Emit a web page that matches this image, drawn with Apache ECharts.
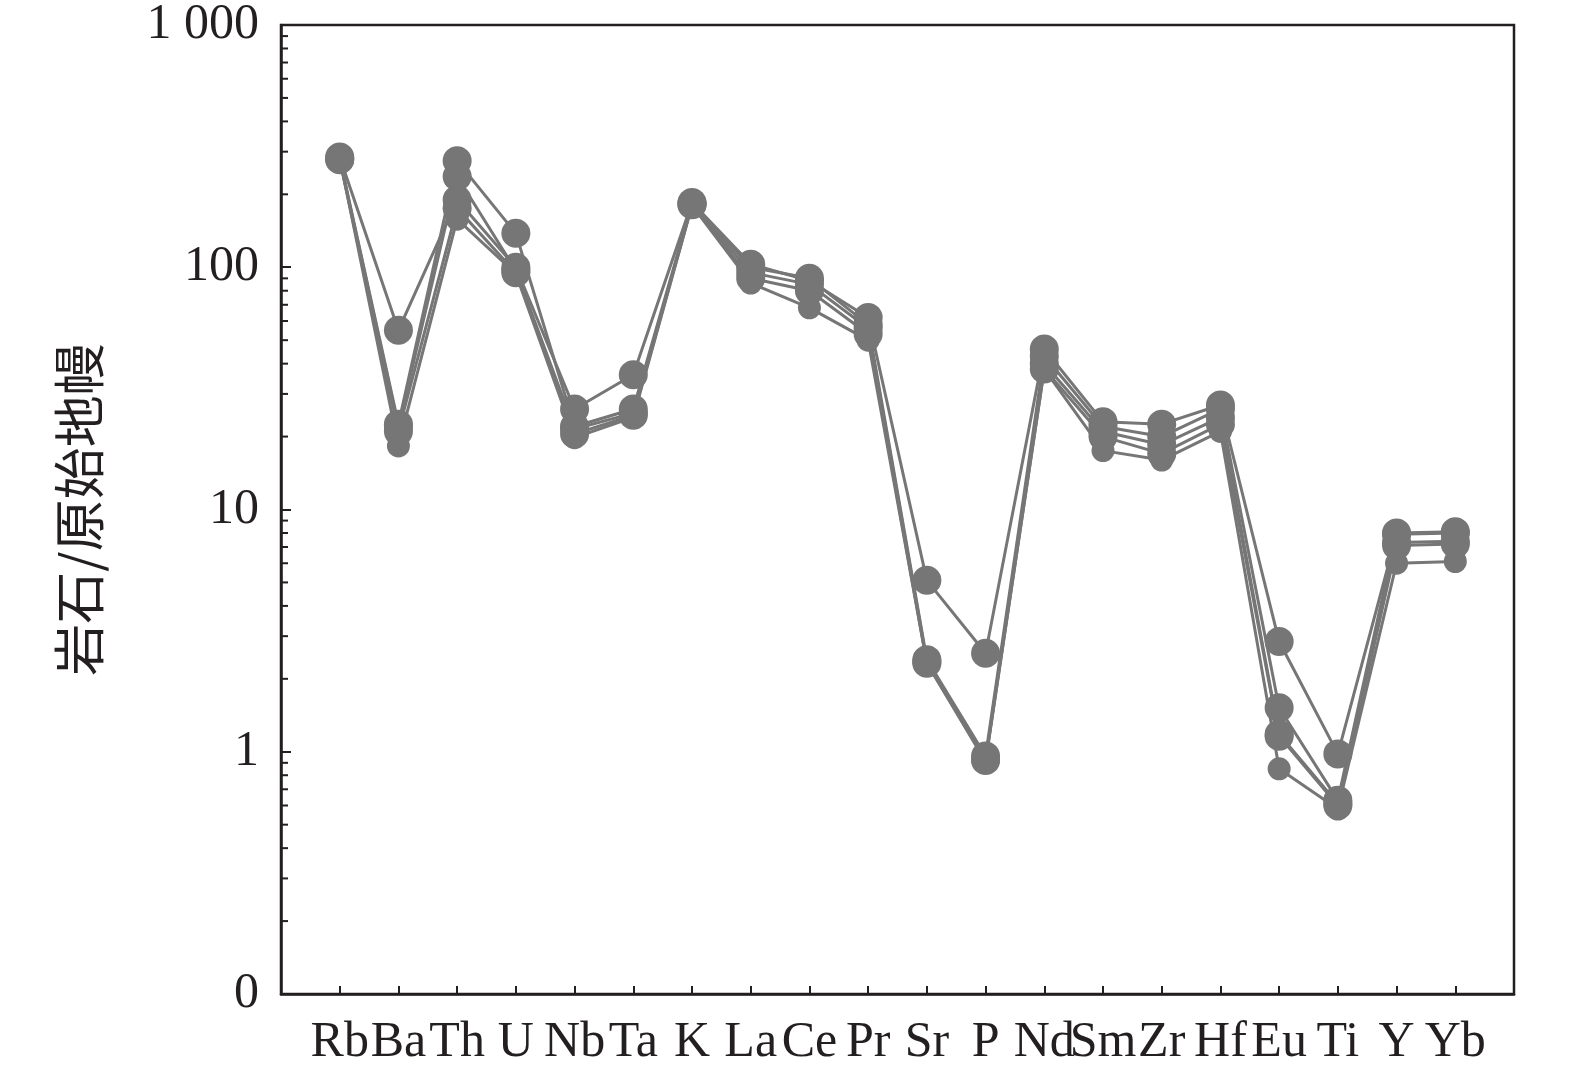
<!DOCTYPE html>
<html>
<head>
<meta charset="utf-8">
<script src="https://cdn.jsdelivr.net/npm/echarts@6/dist/echarts.min.js"></script>
<style>
html,body{margin:0;padding:0;background:#fff;}
#chart{width:1575px;height:1074px;}
</style>
</head>
<body>
<div id="chart"></div>
<script>
const elements = ['Rb','Ba','Th','U','Nb','Ta','K','La','Ce','Pr','Sr','P','Nd','Sm','Zr','Hf','Eu','Ti','Y','Yb'];
const sample1 = [285, 55, 190, 100, 26, 36, 185, 103, 88, 62, 5.1, 2.55, 46, 23, 22.5, 27, 2.85, 0.98, 7.9, 8.0];
const sample2 = [282, 22.5, 275, 138, 22, 26, 183, 100, 90, 58, 2.4, 0.96, 43, 22, 20, 26, 1.52, 0.63, 8.0, 8.1];
const sample3 = [280, 22, 237, 97, 21.5, 25, 182, 95, 85, 56, 2.35, 0.93, 40, 21, 18.5, 24, 1.18, 0.61, 7.3, 7.4];
const sample4 = [278, 21, 175, 95, 20.5, 24.5, 181, 90, 80, 53, 2.32, 0.92, 38, 20, 17, 22.5, 1.16, 0.6, 7.1, 7.2];
const sample5 = [283, 18.3, 158, 94, 19.8, 24, 180, 86, 68, 50, 2.33, 0.91, 38, 17.5, 16, 21, 0.85, 0.58, 6.0, 6.1];
const samples = [sample1, sample2, sample3, sample4, sample5];
const yLabels = {'0.1':'0','1':'1','10':'10','100':'100','1000':'1 000'};
const minorTickValues = [];
[0.1, 1, 10, 100].forEach(d => { for (let m = 2; m <= 9; m++) minorTickValues.push(+(m * d).toPrecision(3)); });

const lineColor = '#767676';
const inkColor = '#231f20';
const chart = echarts.init(document.getElementById('chart'));

const series = samples.map((s, k) => ({
  type: 'line',
  data: s.map((v, i) => [i + 1, v]),
  symbol: 'circle',
  symbolSize: k === 4 ? 23 : 29,
  lineStyle: { color: lineColor, width: 3 },
  itemStyle: { color: lineColor },
  emphasis: { disabled: true },
  animation: false
}));

series.push({
  type: 'custom',
  silent: true,
  animation: false,
  data: minorTickValues.map(v => [0, v]),
  renderItem: function (params, api) {
    const p = api.coord([api.value(0), api.value(1)]);
    return {
      type: 'line',
      shape: { x1: p[0], y1: p[1], x2: p[0] + 7, y2: p[1] },
      style: { stroke: inkColor, lineWidth: 2 }
    };
  }
});

chart.setOption({
  backgroundColor: '#fff',
  animation: false,
  grid: { left: 281, right: 61, top: 23, bottom: 80, show: true, borderColor: inkColor, borderWidth: 2.5, backgroundColor: 'transparent' },
  xAxis: {
    type: 'value', min: 0, max: 21, interval: 1,
    splitLine: { show: false },
    axisLine: { lineStyle: { color: inkColor, width: 2.5 } },
    axisTick: { inside: true, length: 8, lineStyle: { color: inkColor, width: 2 } },
    axisLabel: {
      margin: 24,
      fontFamily: 'Liberation Serif', fontSize: 50, color: inkColor,
      showMinLabel: true, showMaxLabel: true,
      formatter: v => elements[v - 1] || ''
    }
  },
  yAxis: {
    type: 'log', logBase: 10, min: 0.1, max: 1000,
    name: '岩石/原始地幔',
    nameLocation: 'middle', nameRotate: 90, nameGap: 176,
    nameTextStyle: { fontFamily: 'Noto Sans CJK SC', fontSize: 52, color: inkColor },
    splitLine: { show: false },
    axisLine: { lineStyle: { color: inkColor, width: 2.5 } },
    axisTick: { inside: true, length: 10, lineStyle: { color: inkColor, width: 2 } },
    axisLabel: {
      margin: 22,
      fontFamily: 'Liberation Serif', fontSize: 50, color: inkColor,
      formatter: v => yLabels[String(+v.toPrecision(3))] ?? String(v)
    }
  },
  series: series
});
</script>
</body>
</html>
